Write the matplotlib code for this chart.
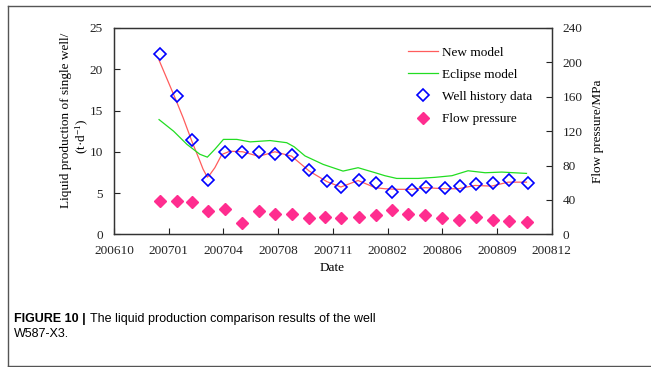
#!/usr/bin/env python3
"""
Well W587-X3 liquid production: new model vs Eclipse vs history data,
with flowing pressure on a secondary axis.
"""

import matplotlib
matplotlib.use('Agg')
import matplotlib.pyplot as plt
from matplotlib.lines import Line2D
from matplotlib import font_manager

# x values are days since the axis start (Oct 2006)
XTICK_LABELS = ['200610', '200701', '200704', '200708', '200711',
                '200802', '200806', '200809', '200812']
XTICK_STEP = 102

# Well history data (t/d)
HIST_DAYS = [86, 117, 145, 176, 207, 239, 270, 301, 332, 364, 397, 423,
             457, 488, 519, 556, 581, 617, 645, 674, 706, 736, 771]
HIST_RATE = [21.8, 16.8, 11.45, 6.53, 9.95, 9.95, 9.95, 9.7, 9.64, 7.83,
             6.4, 5.71, 6.62, 6.17, 5.12, 5.36, 5.69, 5.65, 5.85, 6.05,
             6.25, 6.62, 6.25]

# Flow pressure (MPa)
PRES_DAYS = [86, 117, 145, 176, 207, 239, 270, 301, 332, 364, 394, 424,
             457, 488, 518, 549, 580, 612, 643, 674, 706, 736, 770]
PRES_MPA = [39, 39, 37, 27, 29, 13, 27, 24, 24, 19.4, 19.6, 18.8, 19.6,
            22.7, 27.8, 23.5, 22.7, 18.4, 16.9, 20, 16.9, 15.7, 14.5]

# New model curve
NEW_DAYS = [84, 114, 129, 145, 160, 166, 174, 178, 188, 201, 216, 240,
            270, 300, 331, 347, 364, 397, 423, 455, 487, 505, 530, 555,
            580, 617, 642, 673, 704, 735, 769]
NEW_RATE = [21.1, 16.5, 14.1, 11.3, 8.9, 7.9, 6.93, 7.17, 8.07, 9.67,
            10.07, 10.0, 9.45, 10.0, 9.47, 8.6, 7.66, 6.38, 5.73, 6.52,
            5.65, 5.52, 5.45, 5.45, 5.65, 5.52, 5.52, 5.92, 5.84, 6.32,
            6.32]

# Eclipse model curve
ECL_DAYS = [84, 111, 136, 160, 174, 188, 204, 229, 254, 291, 322, 336,
            356, 390, 427, 455, 487, 505, 527, 567, 598, 630, 660, 692,
            723, 769]
ECL_RATE = [13.9, 12.5, 10.9, 9.7, 9.35, 10.3, 11.5, 11.5, 11.2, 11.36,
            11.1, 10.6, 9.5, 8.47, 7.66, 8.07, 7.46, 7.1, 6.77, 6.77, 6.9,
            7.1, 7.7, 7.46, 7.54, 7.38]

W, H = 651, 367
SERIF = 'Liberation Serif'
FS = 9.5


def pick_caption_font():
    """Condensed sans for the caption if available"""
    try:
        font_manager.findfont('Liberation Sans Narrow', fallback_to_default=False)
        return 'Liberation Sans Narrow', 10
    except Exception:
        return 'Liberation Sans', 9


def main():
    plt.rcParams['font.family'] = SERIF
    plt.rcParams['mathtext.fontset'] = 'custom'
    plt.rcParams['mathtext.rm'] = SERIF
    plt.rcParams['mathtext.it'] = SERIF + ':italic'

    fig = plt.figure(figsize=(W / 100, H / 100), dpi=100)
    ax = fig.add_axes([114 / W, 1 - 234.3 / H, 437.7 / W, 206.3 / H])
    ax2 = ax.twinx()

    new_line, = ax.plot(NEW_DAYS, NEW_RATE, color='#ff5c5c', lw=0.9,
                        label='New model')
    ecl_line, = ax.plot(ECL_DAYS, ECL_RATE, color='#22dd22', lw=0.9,
                        label='Eclipse model')
    hist_pts, = ax.plot(HIST_DAYS, HIST_RATE, ls='none', marker='D', ms=6.2,
                        mfc='none', mec='#0000ff', mew=1.2,
                        label='Well history data')
    pres_pts, = ax2.plot(PRES_DAYS, PRES_MPA, ls='none', marker='D', ms=6.3,
                         color='#ff2d8f', mec='#ff2d8f',
                         label='Flow pressure')

    ax.set_xlim(0, XTICK_STEP * (len(XTICK_LABELS) - 1))
    ax.set_xticks([i * XTICK_STEP for i in range(len(XTICK_LABELS))])
    ax.set_xticklabels(XTICK_LABELS)
    ax.set_ylim(0, 25)
    ax.set_yticks(range(0, 26, 5))
    ax2.set_ylim(0, 240)
    ax2.set_yticks(range(0, 241, 40))

    for a in (ax, ax2):
        a.tick_params(direction='in', length=4, width=0.8, pad=8,
                      labelsize=FS, colors='#222222')
        for s in a.spines.values():
            s.set_color('#333333')
            s.set_linewidth(0.9)

    # axis titles
    fig.text(66 / W, 1 - 120.5 / H, 'Liquid production of single well/',
             rotation=90, ha='center', va='center', fontsize=FS)
    fig.text(82.5 / W, 1 - 136 / H, r'(t·d$^{-1}$)',
             rotation=90, ha='center', va='center', fontsize=FS)
    fig.text(597.5 / W, 1 - 131.5 / H, 'Flow pressure/MPa',
             rotation=90, ha='center', va='center', fontsize=FS)
    fig.text(332.5 / W, 1 - 268 / H, 'Date', ha='center', va='center',
             fontsize=FS)

    ax2.legend(handles=[new_line, ecl_line, hist_pts, pres_pts],
               loc='upper left', bbox_to_anchor=(408 / W, 1 - 46.5 / H),
               bbox_transform=fig.transFigure, frameon=False,
               fontsize=FS, handlelength=2.3, handletextpad=0.25,
               labelspacing=0.75, borderpad=0, borderaxespad=0)

    # caption
    cap_font, cap_fs = pick_caption_font()
    bold = fig.text(14.3 / W, 1 - 321.7 / H, 'FIGURE 10 |', fontsize=cap_fs,
                    family=cap_font, weight='bold', va='baseline')
    fig.canvas.draw()
    bb = bold.get_window_extent(fig.canvas.get_renderer())
    fig.text((bb.x1 + 3.5) / W, 1 - 321.7 / H,
             'The liquid production comparison results of the well',
             fontsize=cap_fs, family=cap_font, va='baseline')
    fig.text(14.3 / W, 1 - 337.3 / H, 'W587-X3.', fontsize=cap_fs,
             family=cap_font, va='baseline')

    # page frame (top, left, bottom)
    frame = dict(color='#555555', lw=1.0, transform=fig.transFigure)
    fig.add_artist(Line2D([8 / W, 1], [1 - 6 / H, 1 - 6 / H], **frame))
    fig.add_artist(Line2D([8 / W, 8 / W], [1 - 6 / H, 1 - 365.5 / H], **frame))
    fig.add_artist(Line2D([8 / W, 1], [1 - 365.5 / H, 1 - 365.5 / H], **frame))

    fig.savefig('out.png', dpi=100)


if __name__ == '__main__':
    main()
